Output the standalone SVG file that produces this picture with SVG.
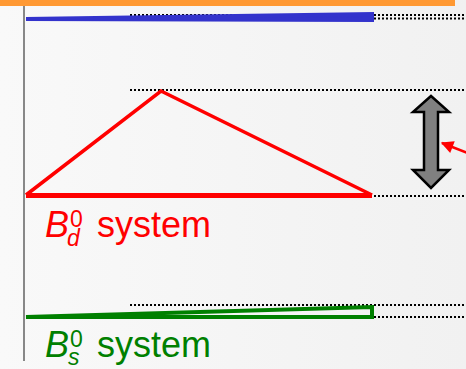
<svg xmlns="http://www.w3.org/2000/svg" width="466" height="369" viewBox="0 0 466 369">
<defs>
<linearGradient id="bg" x1="0" y1="0" x2="1" y2="0">
<stop offset="0" stop-color="#f9f9f9"/>
<stop offset="1" stop-color="#f1f1f1"/>
</linearGradient>
<marker id="ah" viewBox="0 0 10 10" refX="9" refY="5" markerWidth="7" markerHeight="5" markerUnits="strokeWidth" orient="auto">
<path d="M0,0 L10,5 L0,10 Z" fill="#ff0000"/>
</marker>
<style>
.dot{stroke:#000;stroke-width:2;stroke-dasharray:2 2;fill:none}
.lbl{font-family:"Liberation Sans",Arial,sans-serif;font-size:36px}
.it{font-style:italic}
.sm{font-size:23px}
</style>
</defs>
<rect width="466" height="369" fill="url(#bg)"/>
<rect x="0" y="0" width="455" height="6" fill="#ff9933"/>
<line x1="24" y1="6" x2="24" y2="361" stroke="#888" stroke-width="2"/>
<g id="levels">
<line class="dot" x1="130" y1="15" x2="466" y2="15"/>
<line class="dot" x1="130" y1="18.5" x2="466" y2="18.5"/>
<line class="dot" x1="130" y1="90" x2="466" y2="90"/>
<line class="dot" x1="130" y1="196" x2="466" y2="196"/>
<line class="dot" x1="130" y1="305" x2="466" y2="305"/>
<line class="dot" x1="130" y1="317" x2="466" y2="317"/>
</g>
<g id="blue">
<polygon points="26,19 372,14 372,20" fill="#3333cc" stroke="#3333cc" stroke-width="4" stroke-linejoin="miter"/>
</g>
<g id="bd">
<polyline points="26,195 161,91 372,195" fill="none" stroke="#ff0000" stroke-width="3.5" stroke-linejoin="miter"/>
<line x1="26" y1="195.5" x2="372" y2="195.5" stroke="#ff0000" stroke-width="5"/>
<text class="lbl" fill="#ff0000" y="237"><tspan class="it" x="45">B</tspan><tspan class="sm" x="70" y="227">0</tspan><tspan class="it sm" x="67" y="246">d</tspan><tspan x="97" y="237">system</tspan></text>
</g>
<g id="bs">
<polygon points="26,317 372,307 372,317" fill="none" stroke="#008000" stroke-width="4" stroke-linejoin="miter"/>
<text class="lbl" fill="#008000" y="357"><tspan class="it" x="45">B</tspan><tspan class="sm" x="70" y="347">0</tspan><tspan class="it sm" x="68" y="365">s</tspan><tspan x="97" y="357">system</tspan></text>
</g>
<g id="arrow2">
<polygon points="431,96 449,112 438,112 438,170 449,170 431,188 413,170 424,170 424,112 413,112" fill="#808080" stroke="#000" stroke-width="2.5" stroke-linejoin="miter"/>
</g>
<g id="connectors">
<line x1="470" y1="154" x2="442" y2="143" stroke="#ff0000" stroke-width="2.5" marker-end="url(#ah)"/>
</g>
</svg>
